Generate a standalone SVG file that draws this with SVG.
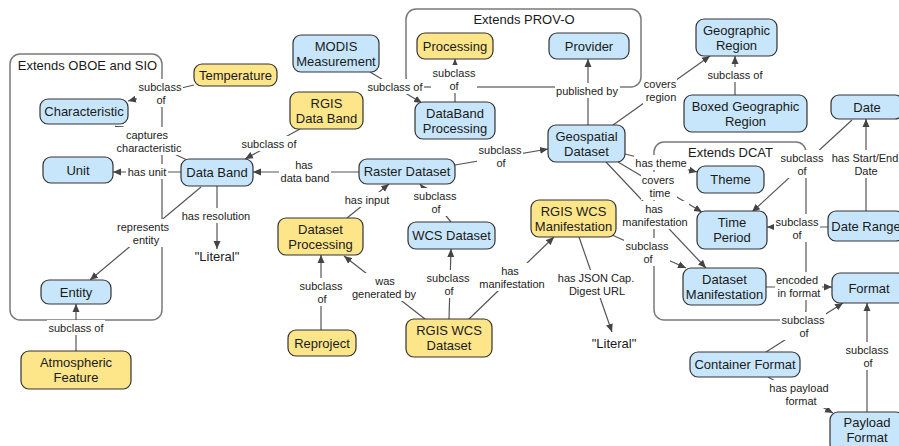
<svg xmlns="http://www.w3.org/2000/svg" width="899" height="446" viewBox="0 0 899 446">
<style>
.node rect{stroke:#333;stroke-width:1.2}
.b rect{fill:#c8e6fb}
.y rect{fill:#fde58a}
text{font-family:"Liberation Sans",Arial,sans-serif;fill:#1a1a1a;text-anchor:middle}
.node text,.lit text{font-size:13px}
.grp rect{fill:none;stroke:#7a7a7a;stroke-width:1.5}
.grp text{font-size:13px}
.edge{fill:none;stroke:#555;stroke-width:1.2;marker-end:url(#arr)}
.lbl rect{fill:#fff}
.lbl text{font-size:11px;fill:#222}
</style>
<defs>
<marker id="arr" markerUnits="userSpaceOnUse" markerWidth="9" markerHeight="8" refX="8" refY="4" orient="auto">
<path d="M0,0.5 L8,4 L0,7.5 z" fill="#444"/>
</marker>
</defs>
<g id="groups">
<g id="g-oboe" class="grp"><rect x="10" y="54" width="152" height="266" rx="10"/><text x="87.5" y="70">Extends OBOE and SIO</text></g>
<g id="g-prov" class="grp"><rect x="406" y="9" width="235" height="78" rx="10"/><text x="524" y="24">Extends PROV-O</text></g>
<g id="g-dcat" class="grp"><rect x="654" y="142" width="152" height="178" rx="10"/><text x="730.5" y="157">Extends DCAT</text></g>
</g>
<g id="connectors">
<path class="edge" d="M194,85 L160,93 L128,101"/>
<path class="edge" d="M187,160 L115,126"/>
<path class="edge" d="M181,172 L113,172"/>
<path class="edge" d="M201,187 L90,280"/>
<path class="edge" d="M217,186 L217,249"/>
<path class="edge" d="M76,351 L76,304"/>
<path class="edge" d="M300,129 L245,159"/>
<path class="edge" d="M359,172 L253,172"/>
<path class="edge" d="M455,165 L548,149"/>
<path class="edge" d="M455,102 L455,59"/>
<path class="edge" d="M370,72 L422,103"/>
<path class="edge" d="M588,125 L588,59"/>
<path class="edge" d="M613,125 L710,56"/>
<path class="edge" d="M735,95 L735,56"/>
<path class="edge" d="M625,154 L697,172"/>
<path class="edge" d="M618,162 L702,212"/>
<path class="edge" d="M606,162 L706,268"/>
<path class="edge" d="M612,235 L686,268"/>
<path class="edge" d="M469,319 L554,237"/>
<path class="edge" d="M579,237 L612,332"/>
<path class="edge" d="M449,319 L451,249"/>
<path class="edge" d="M425,319 L344,256"/>
<path class="edge" d="M321,330 L321,255"/>
<path class="edge" d="M347,218 L389,184"/>
<path class="edge" d="M451,222 L420,184"/>
<path class="edge" d="M866,211 L866,119"/>
<path class="edge" d="M828,227 L767,227"/>
<path class="edge" d="M852,120 L752,212"/>
<path class="edge" d="M766,287 L832,287"/>
<path class="edge" d="M766,352 L843,303"/>
<path class="edge" d="M768,377 L833,413"/>
<path class="edge" d="M867,412 L867,303"/>
<g class="lbl"><rect x="137" y="79" width="46" height="28"/><text x="160" y="91">subclass</text><text x="161" y="104">of</text></g>
<g class="lbl"><rect x="114" y="127" width="69" height="28"/><text x="147" y="139">captures</text><text x="149" y="152">characteristic</text></g>
<g class="lbl"><rect x="126" y="164" width="42" height="15"/><text x="147" y="176">has unit</text></g>
<g class="lbl"><rect x="115" y="219" width="57" height="28"/><text x="143" y="231">represents</text><text x="146" y="244">entity</text></g>
<g class="lbl"><rect x="180" y="208" width="72" height="15"/><text x="216" y="220">has resolution</text></g>
<g class="lbl"><rect x="47" y="320" width="58" height="15"/><text x="76" y="332">subclass of</text></g>
<g class="lbl"><rect x="240" y="136" width="58" height="15"/><text x="269" y="148">subclass of</text></g>
<g class="lbl"><rect x="279" y="157" width="52" height="28"/><text x="304" y="169">has</text><text x="305" y="182">data band</text></g>
<g class="lbl"><rect x="477" y="142" width="46" height="28"/><text x="500" y="154">subclass</text><text x="501" y="167">of</text></g>
<g class="lbl"><rect x="431" y="65" width="46" height="28"/><text x="454" y="77">subclass</text><text x="454" y="90">of</text></g>
<g class="lbl"><rect x="366" y="79" width="58" height="15"/><text x="395" y="91">subclass of</text></g>
<g class="lbl"><rect x="555" y="83" width="65" height="15"/><text x="587" y="95">published by</text></g>
<g class="lbl"><rect x="643" y="76" width="34" height="28"/><text x="660" y="88">covers</text><text x="661" y="101">region</text></g>
<g class="lbl"><rect x="706" y="67" width="58" height="15"/><text x="735" y="79">subclass of</text></g>
<g class="lbl"><rect x="634" y="155" width="54" height="15"/><text x="661" y="167">has theme</text></g>
<g class="lbl"><rect x="641" y="172" width="36" height="28"/><text x="658" y="184">covers</text><text x="660" y="197">time</text></g>
<g class="lbl"><rect x="621" y="201" width="68" height="28"/><text x="654" y="213">has</text><text x="655" y="226">manifestation</text></g>
<g class="lbl"><rect x="624" y="238" width="46" height="28"/><text x="647" y="250">subclass</text><text x="648" y="263">of</text></g>
<g class="lbl"><rect x="477" y="263" width="68" height="28"/><text x="510" y="275">has</text><text x="512" y="288">manifestation</text></g>
<g class="lbl"><rect x="556" y="270" width="80" height="28"/><text x="596" y="282">has JSON Cap.</text><text x="597" y="295">Digest URL</text></g>
<g class="lbl"><rect x="425" y="270" width="46" height="28"/><text x="448" y="282">subclass</text><text x="449" y="295">of</text></g>
<g class="lbl"><rect x="350" y="273" width="68" height="28"/><text x="385" y="285">was</text><text x="384" y="298">generated by</text></g>
<g class="lbl"><rect x="298" y="278" width="46" height="28"/><text x="321" y="290">subclass</text><text x="322" y="303">of</text></g>
<g class="lbl"><rect x="343" y="192" width="48" height="15"/><text x="367" y="204">has input</text></g>
<g class="lbl"><rect x="412" y="188" width="46" height="28"/><text x="435" y="200">subclass</text><text x="436" y="213">of</text></g>
<g class="lbl"><rect x="830" y="150" width="70" height="28"/><text x="865" y="162">has Start/End</text><text x="866" y="175">Date</text></g>
<g class="lbl"><rect x="774" y="214" width="46" height="28"/><text x="797" y="226">subclass</text><text x="797" y="239">of</text></g>
<g class="lbl"><rect x="779" y="150" width="46" height="28"/><text x="802" y="162">subclass</text><text x="802" y="175">of</text></g>
<g class="lbl"><rect x="775" y="272" width="47" height="28"/><text x="797" y="284">encoded</text><text x="799" y="297">in format</text></g>
<g class="lbl"><rect x="780" y="312" width="46" height="28"/><text x="803" y="324">subclass</text><text x="804" y="337">of</text></g>
<g class="lbl"><rect x="769" y="380" width="62" height="28"/><text x="799" y="392">has payload</text><text x="801" y="405">format</text></g>
<g class="lbl"><rect x="844" y="342" width="46" height="28"/><text x="867" y="354">subclass</text><text x="868" y="367">of</text></g>
</g>
<g id="n-temperature" class="node y"><rect x="194" y="64" width="83" height="22" rx="8"/><text x="235.5" y="79.5">Temperature</text></g>
<g id="n-characteristic" class="node b"><rect x="40" y="99" width="88" height="25" rx="8"/><text x="84" y="116">Characteristic</text></g>
<g id="n-unit" class="node b"><rect x="43" y="157" width="70" height="26" rx="8"/><text x="78" y="174.5">Unit</text></g>
<g id="n-databand" class="node b"><rect x="181" y="159" width="72" height="27" rx="8"/><text x="217" y="177">Data Band</text></g>
<g id="n-entity" class="node b"><rect x="41" y="280" width="70" height="24" rx="8"/><text x="76" y="296.5">Entity</text></g>
<g id="n-atmospheric" class="node y"><rect x="21" y="351" width="110" height="38" rx="8"/><text x="76" y="367">Atmospheric</text><text x="76" y="382">Feature</text></g>
<g id="n-modis" class="node b"><rect x="293" y="35" width="86" height="37" rx="8"/><text x="336" y="50.5">MODIS</text><text x="336" y="65.5">Measurement</text></g>
<g id="n-rgisdataband" class="node y"><rect x="290" y="92" width="73" height="37" rx="8"/><text x="326.5" y="107.5">RGIS</text><text x="326.5" y="122.5">Data Band</text></g>
<g id="n-processing" class="node y"><rect x="417" y="33" width="76" height="26" rx="8"/><text x="455" y="50.5">Processing</text></g>
<g id="n-provider" class="node b"><rect x="549" y="33" width="80" height="26" rx="8"/><text x="589" y="50.5">Provider</text></g>
<g id="n-dbprocessing" class="node b"><rect x="415" y="102" width="80" height="37" rx="8"/><text x="455" y="117.5">DataBand</text><text x="455" y="132.5">Processing</text></g>
<g id="n-geospatial" class="node b"><rect x="548" y="125" width="77" height="37" rx="8"/><text x="586.5" y="140.5">Geospatial</text><text x="586.5" y="155.5">Dataset</text></g>
<g id="n-raster" class="node b"><rect x="359" y="159" width="96" height="25" rx="8"/><text x="407" y="176">Raster Dataset</text></g>
<g id="n-georegion" class="node b"><rect x="696" y="19" width="81" height="37" rx="8"/><text x="736.5" y="34.5">Geographic</text><text x="736.5" y="49.5">Region</text></g>
<g id="n-boxed" class="node b"><rect x="684" y="95" width="123" height="37" rx="8"/><text x="745.5" y="110.5">Boxed Geographic</text><text x="745.5" y="125.5">Region</text></g>
<g id="n-date" class="node b"><rect x="831" y="95" width="72" height="24" rx="8"/><text x="867" y="111.5">Date</text></g>
<g id="n-theme" class="node b"><rect x="697" y="166" width="67" height="27" rx="8"/><text x="730.5" y="184">Theme</text></g>
<g id="n-timeperiod" class="node b"><rect x="697" y="211" width="70" height="38" rx="8"/><text x="732" y="227">Time</text><text x="732" y="242">Period</text></g>
<g id="n-daterange" class="node b"><rect x="828" y="211" width="76" height="30" rx="8"/><text x="866" y="230.5">Date Range</text></g>
<g id="n-dsmanifest" class="node b"><rect x="683" y="268" width="83" height="37" rx="8"/><text x="724.5" y="283.5">Dataset</text><text x="724.5" y="298.5">Manifestation</text></g>
<g id="n-format" class="node b"><rect x="832" y="273" width="74" height="30" rx="8"/><text x="869" y="292.5">Format</text></g>
<g id="n-container" class="node b"><rect x="690" y="352" width="110" height="25" rx="8"/><text x="745" y="369">Container Format</text></g>
<g id="n-payload" class="node b"><rect x="830" y="412" width="74" height="40" rx="8"/><text x="867" y="427">Payload</text><text x="867" y="442">Format</text></g>
<g id="n-rgiswcsman" class="node y"><rect x="531" y="200" width="85" height="37" rx="8"/><text x="573.5" y="215.5">RGIS WCS</text><text x="573.5" y="230.5">Manifestation</text></g>
<g id="n-wcsdataset" class="node b"><rect x="408" y="222" width="87" height="27" rx="8"/><text x="451.5" y="240">WCS Dataset</text></g>
<g id="n-dsprocessing" class="node y"><rect x="278" y="218" width="85" height="37" rx="8"/><text x="320.5" y="233.5">Dataset</text><text x="320.5" y="248.5">Processing</text></g>
<g id="n-reproject" class="node y"><rect x="288" y="330" width="68" height="26" rx="8"/><text x="322" y="347.5">Reproject</text></g>
<g id="n-rgiswcsds" class="node y"><rect x="406" y="319" width="86" height="38" rx="8"/><text x="449" y="335">RGIS WCS</text><text x="449" y="350">Dataset</text></g>
<g id="n-literal1" class="lit"><text x="217" y="261">"Literal"</text></g>
<g id="n-literal2" class="lit"><text x="614" y="348">"Literal"</text></g>
</svg>
